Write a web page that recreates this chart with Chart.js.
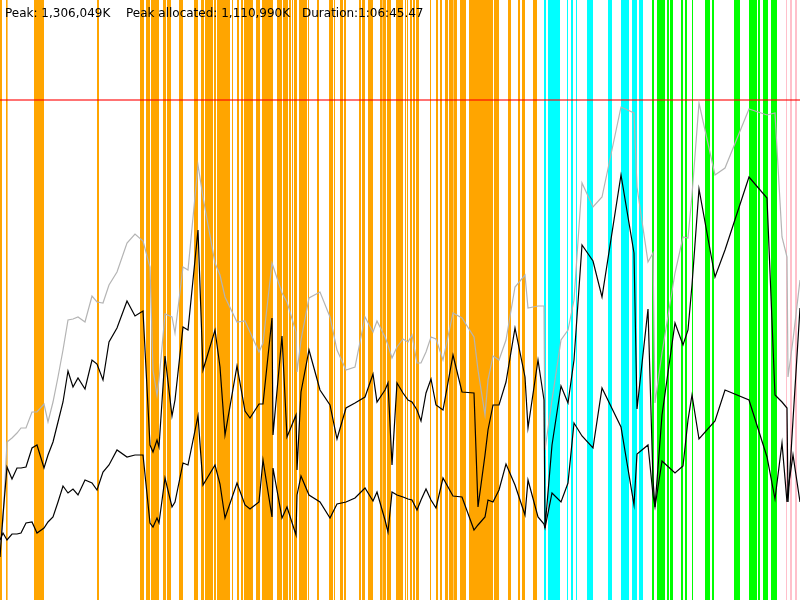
<!DOCTYPE html>
<html lang="en">
<head>
    <meta charset="UTF-8">
    <title>Memory usage</title>
    <script src="https://cdn.jsdelivr.net/npm/chart.js"></script>
    <style>
        body { margin: 0; background: #fff; }
        .container { width: 800px; height: 600px; position: relative; }
    </style>
</head>
<body>
    <div class="container">
        <canvas id="memChart"></canvas>
    </div>

    <script>
// header text
const peakText = 'Peak: 1,306,049K';
const allocText = 'Peak allocated: 1,110,990K';
const durationText = 'Duration:1:06:45.47';

// sample times (seconds since start)
const times = [0,15,35,60,85,105,130,160,185,220,
    240,265,290,315,340,365,390,425,460,485,
    515,545,585,635,675,715,750,765,785,795,
    825,860,875,915,940,990,1015,1075,1100,1125,
    1185,1225,1250,1295,1315,1360,1365,1410,1435,1480,
    1485,1505,1545,1600,1650,1685,1730,1775,1825,1865,
    1885,1925,1940,1960,1985,2015,2040,2060,2085,2105,
    2130,2155,2180,2215,2265,2310,2370,2390,2425,2440,
    2465,2495,2530,2575,2625,2640,2690,2720,2725,2760,
    2805,2840,2870,2910,2965,3010,3105,3170,3185,3240,
    3265,3275,3310,3375,3415,3440,3460,3495,3575,3625,
    3745,3835,3875,3910,3935,3940,3965,4000];

// memory as % of peak (1,306,049K = 100)
const reservedPct = [11,16,31.6,32.4,33.4,34.4,34.4,37.6,37.6,39.2,
    35.6,39.6,44.6,50,56,56.2,56.6,55.6,60.8,59.6,
    59.4,63,65.6,71.4,73.2,71.8,66.6,46,41,44,
    57.2,56.6,53.4,66.6,66,87,80.6,67.4,65,60.6,
    55.6,55.8,53.6,49.6,51.4,67.4,66.8,61.4,59.6,53.6,
    45.6,52,60.4,61.6,56.6,50,46,46.6,56.6,53.6,
    55.8,52.6,51,48.4,50.6,52.2,51.6,53,47.4,47.4,
    49.6,52.6,52.2,48,57.4,56.4,52.6,46,37,44,
    48.8,48,52,62.6,65,58.4,58.8,58.8,30,40,
    52,54,60,83.4,78.6,80.6,98.6,97.4,82.6,67.6,
    69.4,39.4,49.4,65.4,72.6,72.4,81,99.4,85,86.4,
    98.2,97,97.4,72.6,68.6,44.6,52,64];

const usedPct = [8.6,17,26.6,24.2,26.4,26.4,26.6,30.4,31,26.4,
    29,31.6,35.6,39.6,45.8,42.6,44.4,42.2,48,47.2,
    44,51.6,54.4,59.8,56.8,57.8,31,29.6,32,30.6,
    48.8,36.8,40,54.6,54,74,46,54,46.6,33,
    46.8,37.8,36.4,39.2,39.2,56.4,33,52.8,32.6,37,
    26,41.6,50,42,39,32.2,38.4,39.4,40.6,45.2,
    39.6,42,43.4,27,43.4,41.4,40,39.6,38,35.8,
    41.4,44.2,39,38,49,41.6,41.4,18.6,29,34,
    39,39,43.6,54.4,44.6,34.4,48,40,14.4,31,
    42.8,39.4,48,71,67.8,60.6,85,69.4,38.2,58.2,
    24,18.6,37,55.4,51,54,63,82.2,64.6,70,
    84.6,80.4,41,39.6,38.4,19.6,36,58.4];

const allocatedPct = [12,13.4,12,13.2,13.2,13.4,15.4,15.6,13.4,14.4,
    15.6,16.6,19.6,22.8,21.4,22.2,21,24,23.4,22,
    25.6,27,30,28.6,29,29,15.4,14.6,16.4,15.4,
    24.4,18.6,19.6,27.4,27,36.8,23,27,23.2,16.4,
    23.4,19,18.2,19.6,28,16.6,26.4,16.4,18.6,13,
    21,24.8,21,19.6,16.4,19.2,19.6,20.4,22.4,19.8,
    21.6,16,13.6,21.6,21,20.6,20.2,20,18,20,
    22.2,20,18.4,24.4,20.8,20.6,14,15,16.6,20,
    19.6,22,27.2,23,17,24,16.6,15.2,14.4,21.4,
    19.6,23.4,35.4,32.8,30.4,42.4,34.6,19,29.2,31,
    21,18.6,27.8,25.4,26.8,36,41,32.2,35.8,42,
    40,28.6,20.2,31.4,19.6,22,29,19.6];

const peakPct = 100;

// activity phases: [start, end] in seconds
const orangeSpans = [[0,10],[30,38],[170,220],[485,495],[700,720],[730,750],[755,795],[815,830],
    [835,855],[895,915],[970,990],[1005,1020],[1025,1065],[1070,1080],[1085,1150],[1160,1165],
    [1185,1195],[1205,1215],[1220,1265],[1280,1300],[1310,1365],[1385,1410],[1415,1440],[1445,1455],
    [1460,1465],[1470,1485],[1495,1535],[1540,1545],[1585,1595],[1645,1665],[1670,1675],[1700,1715],
    [1720,1730],[1795,1805],[1810,1825],[1840,1865],[1900,1910],[1912,1930],[1935,1955],[1980,2015],
    [2025,2030],[2035,2040],[2050,2060],[2065,2075],[2080,2095],[2150,2155],[2180,2190],[2200,2210],
    [2225,2240],[2245,2265],[2267,2285],[2300,2330],[2345,2465],[2470,2495],[2540,2555],[2590,2600],
    [2610,2625],[2665,2685]];
const cyanSpans = [[2720,2730],[2740,2800],[2835,2840],[2855,2865],[2880,2885],[2935,2965],
    [3040,3060],[3105,3145],[3160,3185],[3195,3215]];
const greenSpans = [[3260,3270],[3285,3325],[3335,3345],[3350,3365],[3405,3415],[3425,3435],
    [3460,3465],[3525,3550],[3560,3570],[3670,3700],[3745,3785],[3790,3800],[3815,3840],[3855,3885]];
const pinkSpans = [[3930,3935],[3950,3960],[3975,3985]];

function toPoints(values) {
    return times.map((t, i) => ({ x: t, y: values[i] }));
}

const phasePlugin = {
    id: 'phases',
    beforeDatasetsDraw(chart) {
        const { ctx, chartArea, scales } = chart;
        const groups = [
            [orangeSpans, '#ffa500'],
            [cyanSpans, '#00ffff'],
            [greenSpans, '#00ff00'],
            [pinkSpans, '#ffc0cb']
        ];
        ctx.save();
        groups.forEach(([spans, color]) => {
            ctx.fillStyle = color;
            spans.forEach(([a, b]) => {
                const x1 = scales.x.getPixelForValue(a);
                const x2 = scales.x.getPixelForValue(b);
                ctx.fillRect(x1, chartArea.top, Math.max(1, x2 - x1), chartArea.bottom - chartArea.top);
            });
        });
        ctx.restore();
    },
    afterDraw(chart) {
        const ctx = chart.ctx;
        ctx.save();
        ctx.fillStyle = '#000';
        ctx.font = '12px "DejaVu Sans", sans-serif';
        ctx.textBaseline = 'alphabetic';
        ctx.fillText(peakText, 5, 17);
        ctx.fillText(allocText, 126, 17);
        ctx.fillText(durationText, 302, 17);
        ctx.restore();
    }
};

const ctx = document.getElementById('memChart').getContext('2d');
new Chart(ctx, {
    type: 'scatter',
    data: {
        datasets: [
            {
                label: 'Peak',
                data: [{ x: 0, y: peakPct }, { x: 4000, y: peakPct }],
                borderColor: 'rgba(255,0,0,0.55)',
                borderWidth: 2,
                showLine: true,
                pointRadius: 0,
                order: 4
            },
            {
                label: 'Reserved',
                data: toPoints(reservedPct),
                borderColor: '#b4b4b4',
                borderWidth: 1.2,
                showLine: true,
                pointRadius: 0,
                order: 3
            },
            {
                label: 'Used',
                data: toPoints(usedPct),
                borderColor: '#000',
                borderWidth: 1.2,
                showLine: true,
                pointRadius: 0,
                order: 2
            },
            {
                label: 'Allocated',
                data: toPoints(allocatedPct),
                borderColor: '#000',
                borderWidth: 1.2,
                showLine: true,
                pointRadius: 0,
                order: 1
            }
        ]
    },
    options: {
        responsive: true,
        maintainAspectRatio: false,
        animation: false,
        layout: { padding: 0 },
        plugins: { legend: { display: false }, tooltip: { enabled: false } },
        scales: {
            x: { type: 'linear', min: 0, max: 4000, display: false },
            y: { type: 'linear', min: 0, max: 120, display: false }
        }
    },
    plugins: [phasePlugin]
});
    </script>
</body>
</html>
